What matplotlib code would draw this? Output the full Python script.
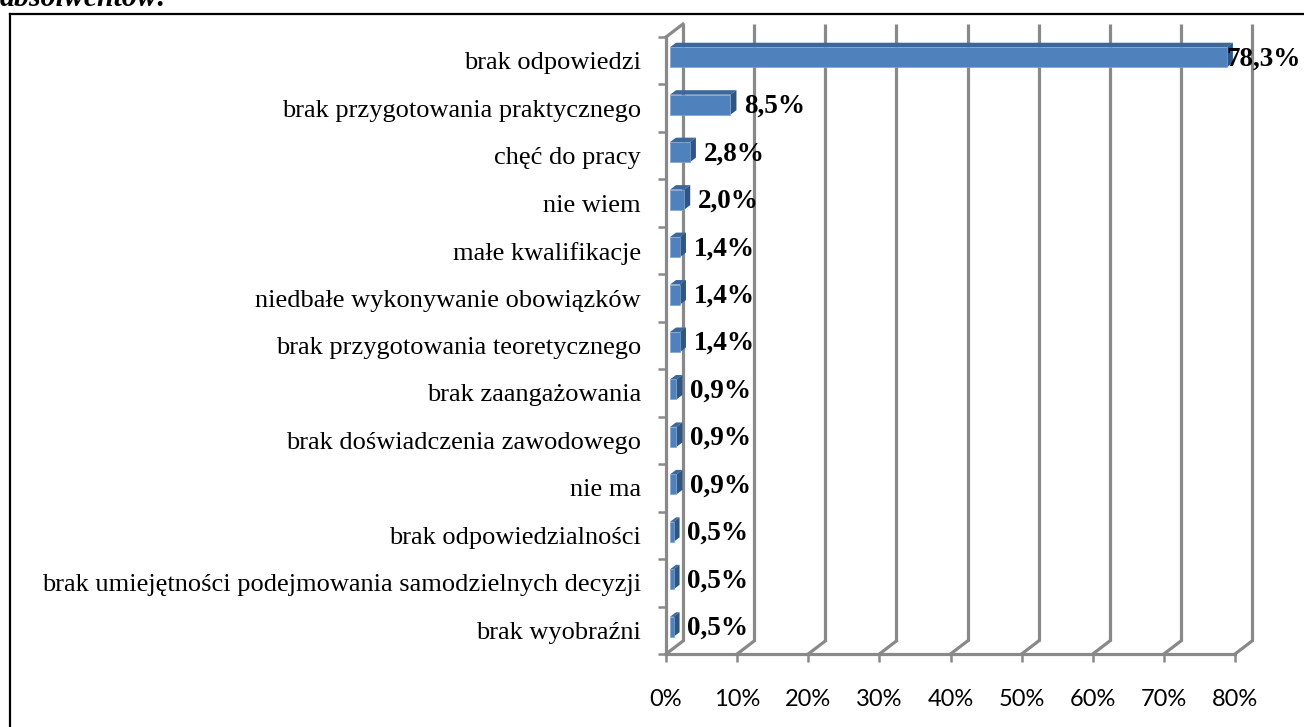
import matplotlib as mpl
mpl.use('Agg')
import matplotlib.pyplot as plt
from matplotlib.patches import Polygon
from matplotlib.lines import Line2D

# data (percent of answers)
categories = ['brak odpowiedzi', 'brak przygotowania praktycznego', 'chęć do pracy',
              'nie wiem', 'małe kwalifikacje', 'niedbałe wykonywanie obowiązków',
              'brak przygotowania teoretycznego', 'brak zaangażowania',
              'brak doświadczenia zawodowego', 'nie ma', 'brak odpowiedzialności',
              'brak umiejętności podejmowania samodzielnych decyzji', 'brak wyobraźni']
values = [78.3, 8.5, 2.8, 2.0, 1.4, 1.4, 1.4, 0.9, 0.9, 0.9, 0.5, 0.5, 0.5]
x_ticks = [0, 10, 20, 30, 40, 50, 60, 70, 80]
x_tick_labels = ['%d%%' % t for t in x_ticks]

W, H = 1304, 727
fig = plt.figure(figsize=(W / 100, H / 100), dpi=100)
# axes = front plane of the 3D box
ax = fig.add_axes([666 / W, 1 - 654 / H, (1235 - 666) / W, (654 - 37) / H])
n = len(categories)
ax.set_xlim(0, 80)
ax.set_ylim(n, 0)
ax.patch.set_visible(False)

grid_c = '#898989'
px_x = (1235 - 666) / 80.0   # pixels per percent
px_y = (654 - 37) / n        # pixels per category slot
DX, DY = 17 / px_x, -13 / px_y   # wall depth in data units

# back wall gridlines + floor diagonals + left wall
for t in x_ticks:
    ax.plot([t + DX, t + DX], [n + DY, DY], color=grid_c, lw=2.3, clip_on=False, zorder=1,
            solid_capstyle='butt')
    ax.plot([t, t + DX], [n, n + DY], color=grid_c, lw=2.3, clip_on=False, zorder=1)
ax.plot([0, DX], [0, DY], color=grid_c, lw=2.3, clip_on=False, zorder=1)

for s in ['top', 'right']:
    ax.spines[s].set_visible(False)
for s in ['left', 'bottom']:
    ax.spines[s].set_color(grid_c)
    ax.spines[s].set_linewidth(2.3)

# bars (3D look)
f_dx, f_dy = 4 / px_x, -3.5 / px_y
b_dx, b_dy = 10 / px_x, -8 / px_y
half = 10 / px_y
front_c, top_c, side_c = '#4f81bd', '#3c679d', '#2f5585'
for i, v in enumerate(values):
    yc = i + 0.5 + f_dy
    x0, x1 = f_dx, v + f_dx
    y0, y1 = yc - half, yc + half
    ddx, ddy = b_dx - f_dx, b_dy - f_dy
    ax.add_patch(Polygon([(x0, y0), (x1, y0), (x1 + ddx, y0 + ddy), (x0 + ddx, y0 + ddy)],
                         closed=True, fc=top_c, ec='none', zorder=3, clip_on=False))
    ax.add_patch(Polygon([(x1, y0), (x1 + ddx, y0 + ddy), (x1 + ddx, y1 + ddy), (x1, y1)],
                         closed=True, fc=side_c, ec='none', zorder=3, clip_on=False))
    ax.add_patch(Polygon([(x0, y0), (x1, y0), (x1, y1), (x0, y1)],
                         closed=True, fc=front_c, ec='#7fa3d0', lw=0.5, zorder=4, clip_on=False))
    lab = ('%.1f%%' % v).replace('.', ',')
    if v > 70:
        ax.text(89.2, i + 0.5 - 0.04, lab, ha='right', va='center', fontsize=19.5,
                fontweight='bold', family='Liberation Serif', zorder=5, clip_on=False)
    else:
        ax.text(v + 2.5, i + 0.5 - 0.04, lab, ha='left', va='center', fontsize=19.5,
                fontweight='bold', family='Liberation Serif', zorder=5, clip_on=False)

# category axis
ax.set_yticks([i + 0.5 for i in range(n)])
ax.set_yticklabels(categories, family='Liberation Serif', fontsize=19)
ax.tick_params(axis='y', which='major', length=0, pad=18)
ax.set_yticks(range(n + 1), minor=True)
ax.tick_params(axis='y', which='minor', length=6, width=1.8, color=grid_c, direction='out')

# value axis
ax.set_xticks(x_ticks)
ax.set_xticklabels(x_tick_labels, family='Lato', fontsize=17)
ax.tick_params(axis='x', length=6, width=1.8, color=grid_c, direction='out', pad=19)

# border of the chart area and the cut-off caption above
fig.add_artist(Line2D([10 / W, 1303 / W], [1 - 14 / H, 1 - 14 / H], color='black', lw=1.6))
fig.add_artist(Line2D([10 / W, 10 / W], [0, 1 - 14 / H], color='black', lw=1.6))
fig.text(0, 1 - 6 / H, 'absolwentów:', ha='left', va='baseline', fontsize=21.5,
         fontweight='bold', style='italic', family='Liberation Serif')

fig.savefig('out.png', dpi=100)
